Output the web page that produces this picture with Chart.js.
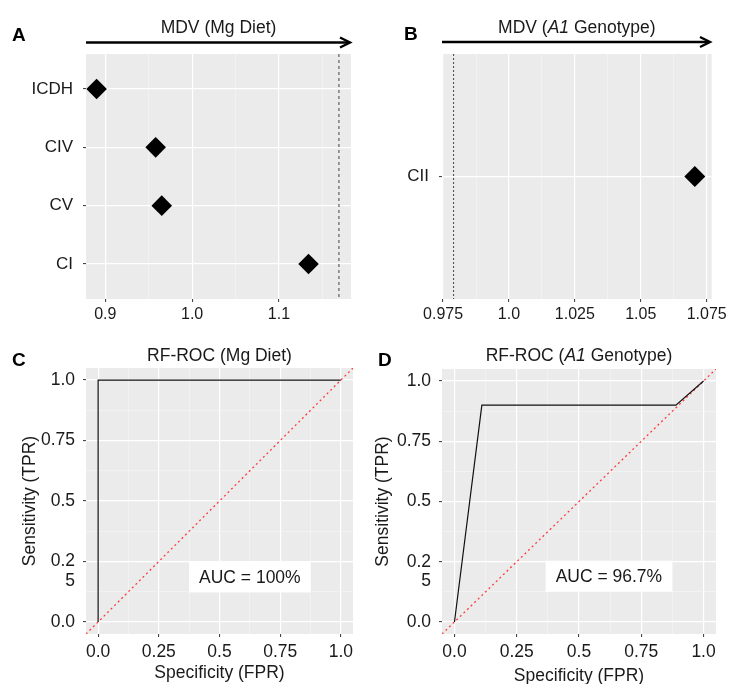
<!DOCTYPE html>
<html>
<head>
<meta charset="utf-8">
<script src="https://cdn.jsdelivr.net/npm/chart.js@4/dist/chart.umd.min.js"></script>
<style>
  html, body { margin: 0; padding: 0; background: #ffffff; }
  #wrap { position: relative; width: 731px; height: 684px; overflow: hidden; background: #ffffff; }
  canvas { position: absolute; }
</style>
</head>
<body>
<div id="wrap">
  <canvas id="cA" width="365" height="330" style="left:0px;top:0px;"></canvas>
  <canvas id="cB" width="366" height="330" style="left:365px;top:0px;"></canvas>
  <canvas id="cC" width="365" height="354" style="left:0px;top:330px;"></canvas>
  <canvas id="cD" width="366" height="354" style="left:365px;top:330px;"></canvas>
</div>
<script>
// ---------------- DATA ----------------
const mgCategories = ['ICDH', 'CIV', 'CV', 'CI'];
const mgValues = [0.890, 0.958, 0.965, 1.134];
const mgThreshold = [1.169];
const mgTicks = [0.9, 1.0, 1.1];
const mgTickLabels = ['0.9', '1.0', '1.1'];
const mgMinorTicks = [0.95, 1.05, 1.15];

const a1Categories = ['CII'];
const a1Values = [1.0705];
const a1Threshold = [0.979];
const a1Ticks = [0.975, 1.0, 1.025, 1.05, 1.075];
const a1TickLabels = ['0.975', '1.0', '1.025', '1.05', '1.075'];
const a1MinorTicks = [0.9875, 1.0125, 1.0375, 1.0625];

const rocTicks = [0, 0.25, 0.5, 0.75, 1.0];
const rocXTickLabels = ['0.0', '0.25', '0.5', '0.75', '1.0'];
const rocYTickLabels = ['0.0', ['', '0.2', '5'], '0.5', '0.75', '1.0'];
const rocMinorTicks = [0.125, 0.375, 0.625, 0.875];
const rocRange = [-0.05, 1.05];

const rocMgFPR = [0, 0, 1];
const rocMgTPR = [0, 1, 1];
const rocA1FPR = [0, 0.11, 0.889, 1];
const rocA1TPR = [0, 0.9, 0.9, 1];

const aucTexts = ['AUC = 100%', 'AUC = 96.7%'];
const aucPosX = [0.625, 0.62];
const aucPosY = [0.186, 0.19];

// ---------------- STYLE HELPERS ----------------
const FONT = "'Liberation Sans', Arial, Helvetica, sans-serif";
const TEXT = '#1a1a1a';
const PANEL = '#EBEBEB';

function isIn(v, arr) { return arr.some(a => Math.abs(a - v) < 1e-9); }

function gridOpts(majors) {
  return {
    drawOnChartArea: true,
    drawTicks: true,
    tickLength: 3,
    color: ctx => (ctx.tick && isIn(ctx.tick.value, majors)) ? '#FFFFFF' : '#F7F7F7',
    lineWidth: ctx => (ctx.tick && isIn(ctx.tick.value, majors)) ? 1.2 : 0.6,
    tickColor: ctx => (ctx.tick && isIn(ctx.tick.value, majors)) ? '#333333' : 'rgba(0,0,0,0)',
    tickWidth: 1
  };
}

function tickScale(majors, minors, labels, fontSize, padding, extra) {
  const all = majors.concat(minors).sort((a, b) => a - b);
  return Object.assign({
    type: 'linear',
    border: { display: false },
    grid: gridOpts(majors),
    afterBuildTicks: s => { s.ticks = all.map(v => ({ value: v })); },
    ticks: {
      autoSkip: false, maxRotation: 0, minRotation: 0,
      padding: padding,
      color: TEXT,
      font: { family: FONT, size: fontSize, lineHeight: 1.13 },
      callback: v => {
        for (let i = 0; i < majors.length; i++) if (Math.abs(majors[i] - v) < 1e-9) return labels[i];
        return '';
      }
    }
  }, extra || {});
}

function drawParts(ctx, parts, cx, y, size) {
  let total = 0;
  parts.forEach(p => {
    ctx.font = (p.i ? 'italic ' : '') + size + 'px ' + FONT;
    p.w = ctx.measureText(p.t).width;
    total += p.w;
  });
  let x = cx - total / 2;
  ctx.textAlign = 'left';
  ctx.textBaseline = 'alphabetic';
  parts.forEach(p => {
    ctx.font = (p.i ? 'italic ' : '') + size + 'px ' + FONT;
    ctx.fillText(p.t, x, y);
    x += p.w;
  });
}

const panelDecor = {
  id: 'panelDecor',
  beforeDraw(chart) {
    const { ctx, chartArea: a } = chart;
    ctx.save();
    ctx.fillStyle = PANEL;
    ctx.fillRect(a.left, a.top, a.width, a.height);
    ctx.restore();
  },
  afterDraw(chart, args, o) {
    const { ctx, chartArea: a } = chart;
    ctx.save();
    ctx.fillStyle = '#000';
    // panel letter
    ctx.font = 'bold 19px ' + FONT;
    ctx.textAlign = 'left';
    ctx.textBaseline = 'alphabetic';
    ctx.fillText(o.letter, o.letterX, o.letterY);
    // title
    ctx.fillStyle = TEXT;
    drawParts(ctx, o.title, (a.left + a.right) / 2, o.titleY, 17.5);
    // arrow
    if (o.arrow) {
      const y = o.arrow.y, x0 = o.arrow.x0, x1 = o.arrow.x1;
      ctx.strokeStyle = '#000';
      ctx.lineWidth = 2.4;
      ctx.lineCap = 'butt';
      ctx.beginPath();
      ctx.moveTo(x0, y); ctx.lineTo(x1 - 1, y);
      ctx.stroke();
      ctx.lineJoin = 'miter';
      ctx.beginPath();
      ctx.moveTo(x1 - 10, y - 5); ctx.lineTo(x1, y); ctx.lineTo(x1 - 10, y + 5);
      ctx.stroke();
    }
    // AUC label box
    if (o.auc) {
      const xs = chart.scales.x, ys = chart.scales.y;
      const cx = xs.getPixelForValue(o.auc.x), cy = ys.getPixelForValue(o.auc.y);
      ctx.font = '17.5px ' + FONT;
      const w = ctx.measureText(o.auc.text).width + 20;
      const h = 31;
      ctx.fillStyle = '#FFFFFF';
      ctx.fillRect(cx - w / 2, cy - h / 2, w, h);
      ctx.fillStyle = TEXT;
      ctx.textAlign = 'center';
      ctx.textBaseline = 'middle';
      ctx.fillText(o.auc.text, cx, cy + 1);
    }
    ctx.restore();
  }
};

const baseOpts = {
  responsive: false,
  animation: false,
  events: [],
  plugins: { legend: { display: false }, tooltip: { enabled: false } }
};

function makeChart(id, datasets, scales, padding, decor) {
  return new Chart(document.getElementById(id), {
    type: 'scatter',
    data: { datasets: datasets },
    options: Object.assign({}, baseOpts, {
      layout: { padding: padding },
      scales: scales,
      plugins: Object.assign({}, baseOpts.plugins, { panelDecor: decor })
    }),
    plugins: [panelDecor]
  });
}

// ---------------- PANEL A ----------------
makeChart('cA',
  [
    {
      data: mgCategories.map((c, i) => ({ x: mgValues[i], y: i + 1 })),
      pointStyle: 'rectRot', pointRadius: 10.3,
      backgroundColor: '#000', borderColor: '#000', borderWidth: 0
    },
    {
      data: [{ x: mgThreshold[0], y: 0.4 }, { x: mgThreshold[0], y: 4.6 }],
      showLine: true, pointRadius: 0,
      borderColor: '#444', borderWidth: 1, borderDash: [3, 3]
    }
  ],
  {
    x: tickScale(mgTicks, mgMinorTicks, mgTickLabels, 16, 4, {
      min: 0.8778, max: 1.1829,
      afterFit: s => { s.height = 31; }
    }),
    y: {
      type: 'linear', min: 0.4, max: 4.6, reverse: true,
      border: { display: false },
      grid: gridOpts([1, 2, 3, 4]),
      afterBuildTicks: s => { s.ticks = mgCategories.map((c, i) => ({ value: i + 1 })); },
      afterFit: s => { s.width = 86; },
      ticks: {
        autoSkip: false, padding: 10, color: TEXT,
        font: { family: FONT, size: 17 },
        callback: v => mgCategories[v - 1]
      }
    }
  },
  { left: 0, top: 54, right: 14, bottom: 0 },
  {
    letter: 'A', letterX: 12, letterY: 41,
    title: [{ t: 'MDV (Mg Diet)', i: false }], titleY: 33,
    arrow: { x0: 86, x1: 350, y: 42.5 }
  }
);

// ---------------- PANEL B ----------------
makeChart('cB',
  [
    {
      data: a1Categories.map((c, i) => ({ x: a1Values[i], y: i + 1 })),
      pointStyle: 'rectRot', pointRadius: 10.5,
      backgroundColor: '#000', borderColor: '#000', borderWidth: 0
    },
    {
      data: [{ x: a1Threshold[0], y: 0.4 }, { x: a1Threshold[0], y: 1.6 }],
      showLine: true, pointRadius: 0,
      borderColor: '#444', borderWidth: 1, borderDash: [2, 2]
    }
  ],
  {
    x: tickScale(a1Ticks, a1MinorTicks, a1TickLabels, 16, 4, {
      min: 0.9746, max: 1.0769,
      afterFit: s => { s.height = 31; }
    }),
    y: {
      type: 'linear', min: 0.4, max: 1.6, reverse: true,
      border: { display: false },
      grid: gridOpts([1]),
      afterBuildTicks: s => { s.ticks = a1Categories.map((c, i) => ({ value: i + 1 })); },
      afterFit: s => { s.width = 77; },
      ticks: {
        autoSkip: false, padding: 10, color: TEXT,
        font: { family: FONT, size: 17 },
        callback: v => a1Categories[v - 1]
      }
    }
  },
  { left: 0, top: 54, right: 17, bottom: 0 },
  {
    letter: 'B', letterX: 39, letterY: 40,
    title: [{ t: 'MDV (', i: false }, { t: 'A1', i: true }, { t: ' Genotype)', i: false }], titleY: 33,
    arrow: { x0: 77, x1: 345, y: 42 }
  }
);

// ---------------- ROC helpers ----------------
function rocScales(yWidth, yTitlePad, xTitlePadBottom) {
  return {
    x: tickScale(rocTicks, rocMinorTicks, rocXTickLabels, 17.5, 5, {
      min: rocRange[0], max: rocRange[1],
      afterFit: s => { s.height = 50; },
      title: {
        display: true, text: 'Specificity (FPR)', color: TEXT,
        font: { family: FONT, size: 17.5, lineHeight: 1.2 },
        padding: { top: 0, bottom: xTitlePadBottom }
      }
    }),
    y: tickScale(rocTicks, rocMinorTicks, rocYTickLabels, 17.5, 8, {
      min: rocRange[0], max: rocRange[1],
      afterFit: s => { s.width = yWidth; },
      title: {
        display: true, text: 'Sensitivity (TPR)', color: TEXT,
        font: { family: FONT, size: 17.5, lineHeight: 1.2 },
        padding: { top: yTitlePad, bottom: 0 }
      }
    })
  };
}

function rocDatasets(fpr, tpr) {
  return [
    {
      data: fpr.map((v, i) => ({ x: v, y: tpr[i] })),
      showLine: true, pointRadius: 0,
      borderColor: '#111', borderWidth: 1.2
    },
    {
      data: [{ x: rocRange[0], y: rocRange[0] }, { x: rocRange[1], y: rocRange[1] }],
      showLine: true, pointRadius: 0,
      borderColor: '#FF3B3B', borderWidth: 1.3, borderDash: [2, 3]
    }
  ];
}

// ---------------- PANEL C ----------------
makeChart('cC',
  rocDatasets(rocMgFPR, rocMgTPR),
  rocScales(86, 19.5, 0),
  { left: 0, top: 38, right: 12, bottom: 0 },
  {
    letter: 'C', letterX: 12, letterY: 36,
    title: [{ t: 'RF-ROC (Mg Diet)', i: false }], titleY: 31,
    auc: { x: aucPosX[0], y: aucPosY[0], text: aucTexts[0] }
  }
);

// ---------------- PANEL D ----------------
makeChart('cD',
  rocDatasets(rocA1FPR, rocA1TPR),
  rocScales(77, 8, -3),
  { left: 0, top: 39, right: 15, bottom: 0 },
  {
    letter: 'D', letterX: 13, letterY: 35.5,
    title: [{ t: 'RF-ROC (', i: false }, { t: 'A1', i: true }, { t: ' Genotype)', i: false }], titleY: 31,
    auc: { x: aucPosX[1], y: aucPosY[1], text: aucTexts[1] }
  }
);
</script>
</body>
</html>
